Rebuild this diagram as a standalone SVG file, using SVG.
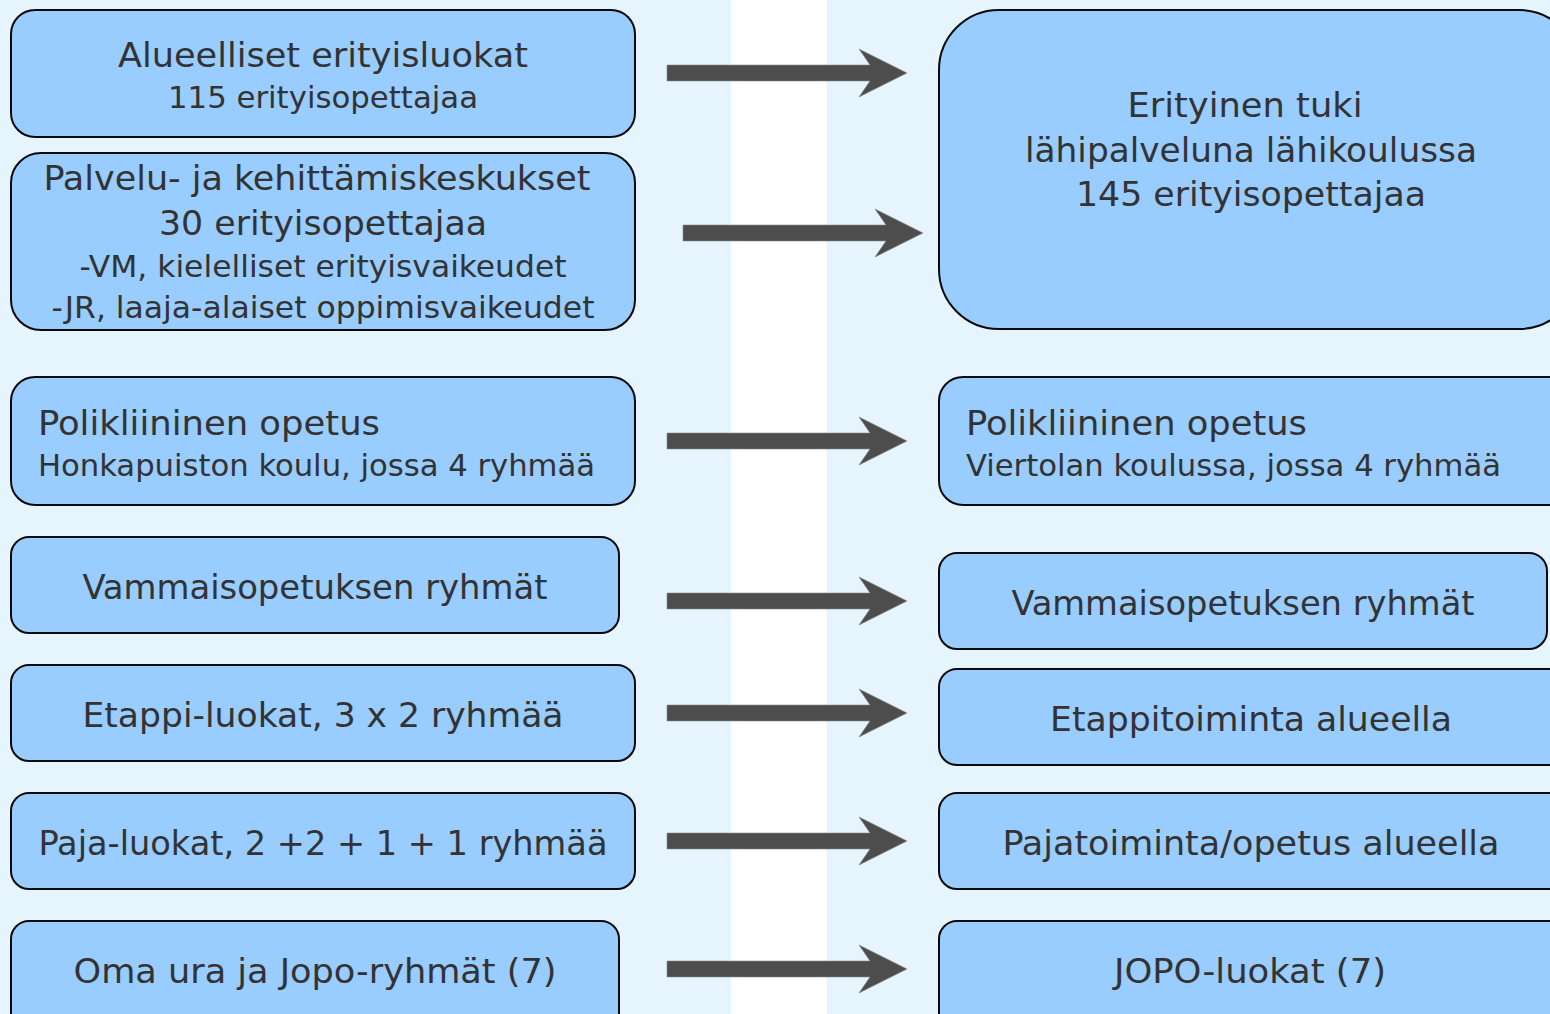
<svg xmlns="http://www.w3.org/2000/svg" width="1550" height="1014" viewBox="0 0 1550 1014">
<style>
.bg{fill:#e6f4fe}
.box{fill:#99ccff;stroke:#0a0a0a;stroke-width:2}
text{font-family:"DejaVu Sans Condensed","DejaVu Sans","Liberation Sans",sans-serif;fill:#333;font-size:34px}
.s{font-size:30px}
.c{text-anchor:middle}
.arr{fill:#4d4d4d;stroke:#8a8a8a;stroke-width:0.6}
</style>
<defs>
<polygon id="arrow" points="0,-8 203,-8 192,-24 240,0 192,24 203,8 0,8"/>
</defs>
<rect class="bg" x="0" y="0" width="731" height="1014"/>
<rect x="731" y="0" width="96" height="1014" fill="#ffffff"/>
<rect class="bg" x="827" y="0" width="723" height="1014"/>

<g id="connectors">
<use href="#arrow" class="arr" x="667" y="73"/>
<use href="#arrow" class="arr" x="683" y="233"/>
<use href="#arrow" class="arr" x="667" y="441"/>
<use href="#arrow" class="arr" x="667" y="601"/>
<use href="#arrow" class="arr" x="667" y="713"/>
<use href="#arrow" class="arr" x="667" y="841"/>
<use href="#arrow" class="arr" x="667" y="969"/>
</g>

<g id="n-alueelliset">
<rect class="box" x="11" y="10" width="624" height="127" rx="24"/>
<text class="c" x="323" y="67" textLength="410" lengthAdjust="spacingAndGlyphs">Alueelliset erityisluokat</text>
<text class="c s" x="323" y="108" textLength="310" lengthAdjust="spacingAndGlyphs">115 erityisopettajaa</text>
</g>

<g id="n-palvelu">
<rect class="box" x="11" y="153" width="624" height="177" rx="30"/>
<text class="c" x="317" y="190" textLength="547" lengthAdjust="spacingAndGlyphs">Palvelu- ja kehittämiskeskukset</text>
<text class="c" x="323" y="235" textLength="328" lengthAdjust="spacingAndGlyphs">30 erityisopettajaa</text>
<text class="c s" x="323" y="277" textLength="487" lengthAdjust="spacingAndGlyphs">-VM, kielelliset erityisvaikeudet</text>
<text class="c s" x="323" y="318" textLength="543" lengthAdjust="spacingAndGlyphs">-JR, laaja-alaiset oppimisvaikeudet</text>
</g>

<g id="n-erityinen">
<rect class="box" x="939" y="10" width="640" height="319" rx="60"/>
<text class="c" x="1245" y="117" textLength="235" lengthAdjust="spacingAndGlyphs">Erityinen tuki</text>
<text class="c" x="1251" y="162" textLength="452" lengthAdjust="spacingAndGlyphs">lähipalveluna lähikoulussa</text>
<text class="c" x="1251" y="206" textLength="350" lengthAdjust="spacingAndGlyphs">145 erityisopettajaa</text>
</g>

<g id="n-poli-left">
<rect class="box" x="11" y="377" width="624" height="128" rx="24"/>
<text x="38" y="435" textLength="342" lengthAdjust="spacingAndGlyphs">Polikliininen opetus</text>
<text class="s" x="38" y="476" textLength="557" lengthAdjust="spacingAndGlyphs">Honkapuiston koulu, jossa 4 ryhmää</text>
</g>

<g id="n-poli-right">
<rect class="box" x="939" y="377" width="640" height="128" rx="24"/>
<text x="966" y="435" textLength="341" lengthAdjust="spacingAndGlyphs">Polikliininen opetus</text>
<text class="s" x="966" y="476" textLength="535" lengthAdjust="spacingAndGlyphs">Viertolan koulussa, jossa 4 ryhmää</text>
</g>

<g id="n-vammais-left">
<rect class="box" x="11" y="537" width="608" height="96" rx="18"/>
<text class="c" x="315" y="599" textLength="465" lengthAdjust="spacingAndGlyphs">Vammaisopetuksen ryhmät</text>
</g>

<g id="n-vammais-right">
<rect class="box" x="939" y="553" width="608" height="96" rx="18"/>
<text class="c" x="1243" y="615" textLength="463" lengthAdjust="spacingAndGlyphs">Vammaisopetuksen ryhmät</text>
</g>

<g id="n-etappi-left">
<rect class="box" x="11" y="665" width="624" height="96" rx="18"/>
<text class="c" x="323" y="727" textLength="481" lengthAdjust="spacingAndGlyphs">Etappi-luokat, 3 x 2 ryhmää</text>
</g>

<g id="n-etappi-right">
<rect class="box" x="939" y="669" width="640" height="96" rx="18"/>
<text class="c" x="1251" y="731" textLength="402" lengthAdjust="spacingAndGlyphs">Etappitoiminta alueella</text>
</g>

<g id="n-paja-left">
<rect class="box" x="11" y="793" width="624" height="96" rx="18"/>
<text class="c" x="323" y="855" textLength="569" lengthAdjust="spacingAndGlyphs">Paja-luokat, 2 +2 + 1 + 1 ryhmää</text>
</g>

<g id="n-paja-right">
<rect class="box" x="939" y="793" width="640" height="96" rx="18"/>
<text class="c" x="1251" y="855" textLength="497" lengthAdjust="spacingAndGlyphs">Pajatoiminta/opetus alueella</text>
</g>

<g id="n-oma">
<rect class="box" x="11" y="921" width="608" height="110" rx="18"/>
<text class="c" x="315" y="983" textLength="483" lengthAdjust="spacingAndGlyphs">Oma ura ja Jopo-ryhmät (7)</text>
</g>

<g id="n-jopo">
<rect class="box" x="939" y="921" width="640" height="110" rx="18"/>
<text class="c" x="1250" y="983" textLength="272" lengthAdjust="spacingAndGlyphs">JOPO-luokat (7)</text>
</g>
</svg>
